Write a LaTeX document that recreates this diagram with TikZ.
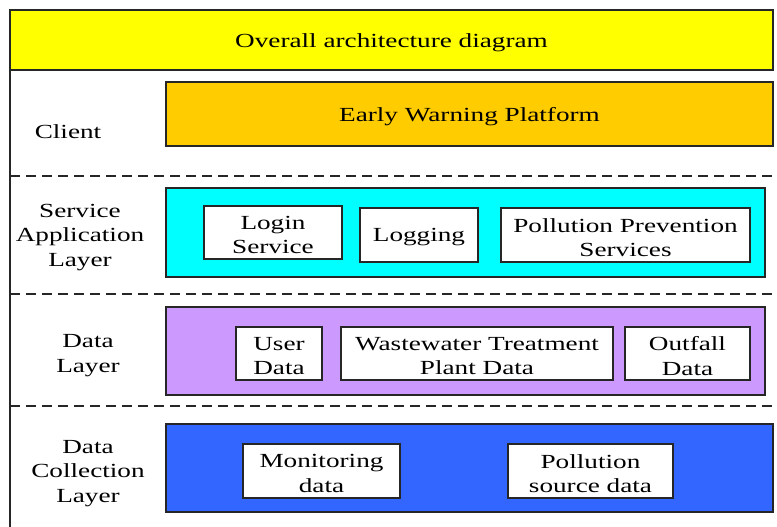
\documentclass[tikz,border=0pt]{standalone}
\usepackage{fontspec}
\setmainfont{Liberation Serif}[FakeStretch=1.36]
\definecolor{titleyellow}{HTML}{FFFF00}
\definecolor{clientorange}{HTML}{FFCC00}
\definecolor{servicecyan}{HTML}{00FFFF}
\definecolor{datapurple}{HTML}{CC99FF}
\definecolor{collectblue}{HTML}{3366FF}
\definecolor{edge}{HTML}{262626}
\begin{document}
\begin{tikzpicture}[x=1pt,y=-1pt,
  every node/.style={font=\fontsize{20}{24.5}\selectfont, inner sep=0pt, outer sep=0pt},
  layerbox/.style={draw=edge, line width=1.3pt, rectangle},
  itembox/.style={draw=edge, line width=1.3pt, fill=white, rectangle, align=center},
  sidelabel/.style={align=center, yshift=-2.5pt},
  textdown/.style={label={[font=\fontsize{20}{24.5}\selectfont, align=center, yshift=-2.5pt]center:#1}},
  separator/.style={draw=edge, line width=1.1pt, dash pattern=on 10pt off 6pt}]
\useasboundingbox (0,0) rectangle (777,527);

% frame and layer separators
\coordinate (frameTop) at (10,10);
\coordinate (frameBot) at (10,527);
\draw[edge, line width=1.3pt] (frameTop) -- (frameBot);
\coordinate (s1a) at (10,176); \coordinate (s1b) at (777,176);
\coordinate (s2a) at (10,294); \coordinate (s2b) at (777,294);
\coordinate (s3a) at (10,406); \coordinate (s3b) at (777,406);
\draw[separator] (s1a) -- (s1b);
\draw[separator] (s2a) -- (s2b);
\draw[separator] (s3a) -- (s3b);

% title bar
\node[layerbox, fill=titleyellow, minimum width=763pt, minimum height=60pt,
      textdown={Overall architecture diagram}] (title) at (391.5,40) {};

% client layer
\node[sidelabel] (clientlbl) at (68,129) {Client};
\node[layerbox, fill=clientorange, minimum width=607pt, minimum height=64pt,
      textdown={Early Warning Platform}] (platform) at (469.5,114) {};

% service application layer
\node[sidelabel] (servicelbl) at (80,235) {Service\\Application\\Layer};
\node[layerbox, fill=servicecyan, minimum width=599pt, minimum height=89pt] (servicebox) at (465.5,232.5) {};
\node[itembox, minimum width=138pt, minimum height=53pt, textdown={Login\\Service}] (login) at (273,232.5) {};
\node[itembox, minimum width=118pt, minimum height=54pt, textdown={Logging}] (logging) at (419,235) {};
\node[itembox, minimum width=249pt, minimum height=54pt, textdown={Pollution Prevention\\Services}] (prevention) at (625.5,235) {};

% data layer
\node[sidelabel] (datalbl) at (88,353) {Data\\Layer};
\node[layerbox, fill=datapurple, minimum width=599pt, minimum height=88pt] (databox) at (465.5,351) {};
\node[itembox, minimum width=86pt, minimum height=53pt, textdown={User\\Data}] (userdata) at (279,353.5) {};
\node[itembox, minimum width=272pt, minimum height=53pt, textdown={Wastewater Treatment\\Plant Data}] (plantdata) at (477,353.5) {};
\node[itembox, minimum width=125pt, minimum height=53pt, textdown={Outfall\\Data}] (outfall) at (687.5,353.5) {};

% data collection layer
\node[sidelabel] (collectlbl) at (88,471) {Data\\Collection\\Layer};
\node[layerbox, fill=collectblue, minimum width=607pt, minimum height=88pt] (collectbox) at (469.5,468) {};
\node[itembox, minimum width=157pt, minimum height=54pt, textdown={Monitoring\\data}] (monitoring) at (321.5,471) {};
\node[itembox, minimum width=165pt, minimum height=54pt, textdown={Pollution\\source data}] (sourcedata) at (590.5,471) {};
\end{tikzpicture}
\end{document}
